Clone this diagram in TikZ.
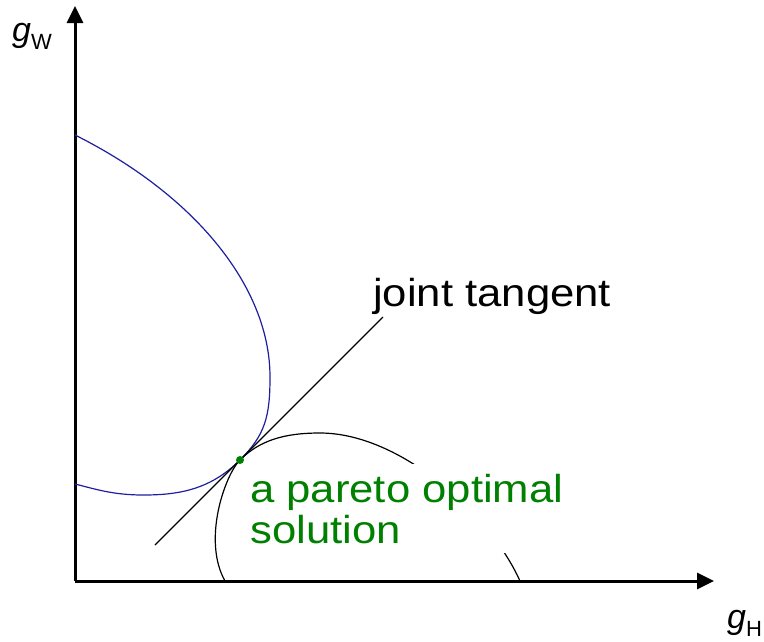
\documentclass[tikz,border=0pt]{standalone}
\usepackage{fontspec}
\setmainfont{Liberation Sans}
\newfontfamily\lblfont[FakeStretch=1.12]{Liberation Sans}
\usetikzlibrary{arrows.meta}
\definecolor{POgreen}{RGB}{0,128,0}
\definecolor{POblue}{RGB}{30,30,160}
\tikzset{
  axis/.style={line width=3pt,-{Triangle[length=17pt,width=16pt]}},
  front/.style={line width=1.2pt,draw=black},
  contour/.style={line width=1.2pt,draw=POblue},
  lbl/.style={font=\lblfont\fontsize{39}{41}\selectfont,inner sep=0pt,align=left},
  axlbl/.style={font=\fontsize{34}{40}\selectfont,inner sep=0pt},
  optpt/.style={circle,fill=POgreen,inner sep=0pt,minimum size=8pt}
}
\newcommand{\axname}[1]{\textit{g}\raisebox{-8pt}{\fontsize{22}{24}\selectfont #1}}

\begin{document}
\begin{tikzpicture}[x=1pt,y=-1pt]
  \useasboundingbox (0,0) rectangle (764,641);
  \coordinate (o) at (75,581);
  \coordinate (ytip) at (75,6);
  \coordinate (xtip) at (714,581);
  \draw[axis] (o) -- (ytip);
  \draw[axis] (o) -- (xtip);
  \node[axlbl,anchor=base west] (gw) at (12,41) {\axname{W}};
  \node[axlbl,anchor=base west] (gh) at (727,628) {\axname{H}};
  \coordinate (p) at (240,460);
  % contour of g_W
  \draw[contour] (75,135) .. controls (195,195) and (270,287) .. (270,377)
    .. controls (270,417) and (265,435) .. (p)
    .. controls (210,490) and (178,495) .. (143,495)
    .. controls (113,495) and (95,489) .. (75,484);
  % contour of g_H
  \draw[front] (225,581) .. controls (202,540) and (225,475) .. (p)
    .. controls (260,440) and (285,433) .. (320,433)
    .. controls (400,433) and (490,514) .. (520,581);
  % joint tangent
  \coordinate (t1) at (155,545);
  \coordinate (t2) at (383,317);
  \draw[line width=1.2pt] (t1) -- (t2);
  \node[lbl,anchor=base west] (jt) at (373,306) {joint tangent};
  \node[lbl,anchor=base west,text=POgreen,fill=white,inner sep=10pt] (sol) at (240,543)
    {a pareto optimal\\solution};
  \node[optpt] (pt) at (p) {};
\end{tikzpicture}
\end{document}
